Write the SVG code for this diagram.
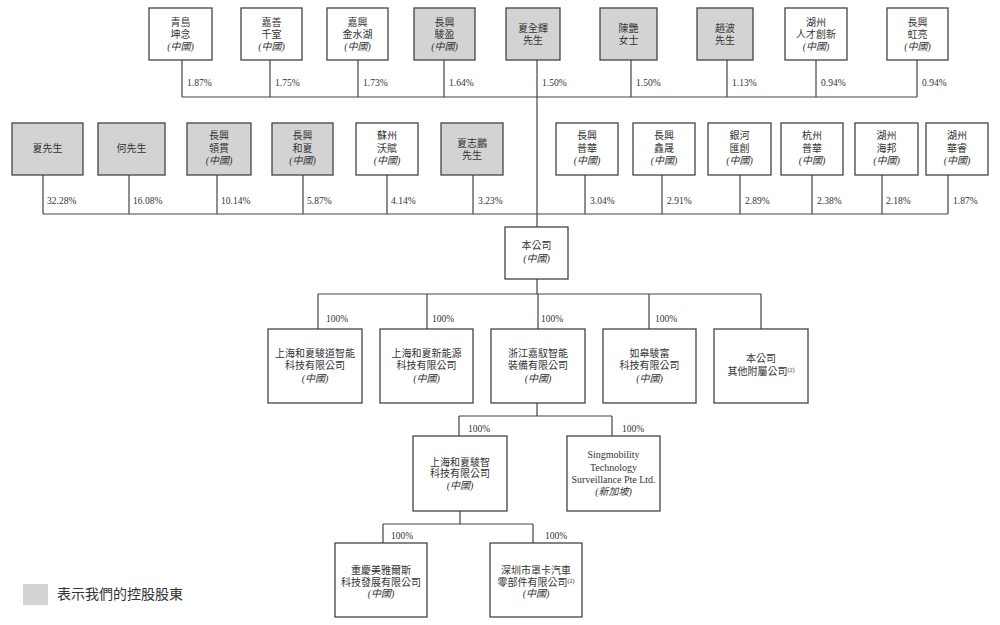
<svg xmlns="http://www.w3.org/2000/svg" width="1000" height="625" viewBox="0 0 1000 625">
<style>
.b{fill:#fff;stroke:#444;stroke-width:1.3}
.g{fill:#d3d3d3;stroke:#444;stroke-width:1.3}
.t{font-family:"Liberation Serif","Noto Sans CJK TC",serif;font-size:10px;fill:#333;text-anchor:middle}
.i{font-style:italic}
.p{font-family:"Liberation Serif","Noto Sans CJK TC",serif;font-size:9.5px;fill:#333}
.l{fill:none;stroke:#444;stroke-width:1.2}
</style>
<rect width="1000" height="625" fill="#fff"/>
<g id="connectors" class="l">
<path d="M182 60V97M270 60V97M358 60V97M444 60V97M631 60V97M727 60V97M816 60V97M917 60V97M182 97H917"/>
<path d="M537 60V227"/>
<path d="M43 175V214M129 175V214M217 175V214M303 175V214M387 175V214M473 175V214M585 175V214M662 175V214M740 175V214M812 175V214M882 175V214M948 175V214M43 214H948"/>
<path d="M537 279V294M318 294H761M318 294V329M427 294V329M538 294V329M649 294V329M761 294V329"/>
<path d="M537 403V416M459 416H612M459 416V436M612 416V436"/>
<path d="M460 511V524M383 524H533M383 524V543M533 524V543"/>
</g>
<g id="labels" class="p">
<text x="187" y="86">1.87%</text><text x="275" y="86">1.75%</text><text x="363" y="86">1.73%</text><text x="449" y="86">1.64%</text><text x="542" y="86">1.50%</text><text x="636" y="86">1.50%</text><text x="732" y="86">1.13%</text><text x="821" y="86">0.94%</text><text x="922" y="86">0.94%</text>
<text x="47" y="204">32.28%</text><text x="133" y="204">16.08%</text><text x="221" y="204">10.14%</text><text x="307" y="204">5.87%</text><text x="391" y="204">4.14%</text><text x="478" y="204">3.23%</text><text x="590" y="204">3.04%</text><text x="667" y="204">2.91%</text><text x="745" y="204">2.89%</text><text x="817" y="204">2.38%</text><text x="886" y="204">2.18%</text><text x="953" y="204">1.87%</text>
<text x="326" y="322">100%</text><text x="432" y="322">100%</text><text x="541" y="322">100%</text><text x="655" y="322">100%</text>
<text x="468" y="432">100%</text><text x="622" y="432">100%</text>
<text x="391" y="539">100%</text><text x="545" y="539">100%</text>
</g>
<g id="n1"><rect class="b" x="149" y="8" width="63" height="52"/><text class="t" x="180.5" y="26">青島</text><text class="t" x="180.5" y="38">坤念</text><text class="t i" x="180.5" y="50">(中國)</text></g>
<g id="n2"><rect class="b" x="241" y="8" width="61" height="52"/><text class="t" x="271.5" y="26">嘉善</text><text class="t" x="271.5" y="38">千室</text><text class="t i" x="271.5" y="50">(中國)</text></g>
<g id="n3"><rect class="b" x="327" y="8" width="61" height="52"/><text class="t" x="357.5" y="26">嘉興</text><text class="t" x="357.5" y="38">金水湖</text><text class="t i" x="357.5" y="50">(中國)</text></g>
<g id="n4"><rect class="g" x="414" y="8" width="61" height="52"/><text class="t" x="444.5" y="26">長興</text><text class="t" x="444.5" y="38">駿盈</text><text class="t i" x="444.5" y="50">(中國)</text></g>
<g id="n5"><rect class="g" x="506" y="8" width="54" height="52"/><text class="t" x="533" y="32">夏全輝</text><text class="t" x="533" y="44">先生</text></g>
<g id="n6"><rect class="g" x="600" y="8" width="57" height="52"/><text class="t" x="628.5" y="32">陳艷</text><text class="t" x="628.5" y="44">女士</text></g>
<g id="n7"><rect class="g" x="697" y="8" width="56" height="52"/><text class="t" x="725" y="32">趙波</text><text class="t" x="725" y="44">先生</text></g>
<g id="n8"><rect class="b" x="785" y="8" width="62" height="52"/><text class="t" x="816" y="26">湖州</text><text class="t" x="816" y="38">人才創新</text><text class="t i" x="816" y="50">(中國)</text></g>
<g id="n9"><rect class="b" x="887" y="8" width="61" height="52"/><text class="t" x="917.5" y="26">長興</text><text class="t" x="917.5" y="38">虹亮</text><text class="t i" x="917.5" y="50">(中國)</text></g>
<g id="m1"><rect class="g" x="12" y="123" width="71" height="52"/><text class="t" x="47.5" y="152">夏先生</text></g>
<g id="m2"><rect class="g" x="98" y="123" width="67" height="52"/><text class="t" x="131.5" y="152">何先生</text></g>
<g id="m3"><rect class="g" x="187" y="123" width="64" height="52"/><text class="t" x="219" y="139">長興</text><text class="t" x="219" y="152">領貫</text><text class="t i" x="219" y="164">(中國)</text></g>
<g id="m4"><rect class="g" x="272" y="123" width="61" height="52"/><text class="t" x="302.5" y="139">長興</text><text class="t" x="302.5" y="152">和夏</text><text class="t i" x="302.5" y="164">(中國)</text></g>
<g id="m5"><rect class="b" x="356" y="123" width="62" height="52"/><text class="t" x="387" y="139">蘇州</text><text class="t" x="387" y="152">沃賦</text><text class="t i" x="387" y="164">(中國)</text></g>
<g id="m6"><rect class="g" x="441" y="123" width="62" height="52"/><text class="t" x="472" y="147">夏志鵬</text><text class="t" x="472" y="159">先生</text></g>
<g id="m7"><rect class="b" x="556" y="123" width="62" height="52"/><text class="t" x="587" y="139">長興</text><text class="t" x="587" y="152">普華</text><text class="t i" x="587" y="164">(中國)</text></g>
<g id="m8"><rect class="b" x="633" y="123" width="62" height="52"/><text class="t" x="664" y="139">長興</text><text class="t" x="664" y="152">鑫晟</text><text class="t i" x="664" y="164">(中國)</text></g>
<g id="m9"><rect class="b" x="708" y="123" width="63" height="52"/><text class="t" x="739.5" y="139">銀河</text><text class="t" x="739.5" y="152">匯創</text><text class="t i" x="739.5" y="164">(中國)</text></g>
<g id="m10"><rect class="b" x="781" y="123" width="62" height="52"/><text class="t" x="812" y="139">杭州</text><text class="t" x="812" y="152">普華</text><text class="t i" x="812" y="164">(中國)</text></g>
<g id="m11"><rect class="b" x="855" y="123" width="63" height="52"/><text class="t" x="886.5" y="139">湖州</text><text class="t" x="886.5" y="152">海邦</text><text class="t i" x="886.5" y="164">(中國)</text></g>
<g id="m12"><rect class="b" x="926" y="123" width="62" height="52"/><text class="t" x="957" y="139">湖州</text><text class="t" x="957" y="152">華睿</text><text class="t i" x="957" y="164">(中國)</text></g>
<g id="company"><rect class="b" x="505" y="227" width="63" height="52"/><text class="t" x="536.5" y="249">本公司</text><text class="t i" x="536.5" y="262">(中國)</text></g>
<g id="s1"><rect class="b" x="268" y="329" width="94" height="74"/><text class="t" x="315" y="357">上海和夏駿道智能</text><text class="t" x="315" y="369">科技有限公司</text><text class="t i" x="315" y="382">(中國)</text></g>
<g id="s2"><rect class="b" x="380" y="329" width="93" height="74"/><text class="t" x="426.5" y="357">上海和夏新能源</text><text class="t" x="426.5" y="369">科技有限公司</text><text class="t i" x="426.5" y="382">(中國)</text></g>
<g id="s3"><rect class="b" x="491" y="329" width="94" height="74"/><text class="t" x="538" y="357">浙江嘉馭智能</text><text class="t" x="538" y="369">裝備有限公司</text><text class="t i" x="538" y="382">(中國)</text></g>
<g id="s4"><rect class="b" x="603" y="329" width="93" height="74"/><text class="t" x="649.5" y="357">如皋駿富</text><text class="t" x="649.5" y="369">科技有限公司</text><text class="t i" x="649.5" y="382">(中國)</text></g>
<g id="s5"><rect class="b" x="714" y="329" width="94" height="74"/><text class="t" x="761" y="362">本公司</text><text class="t" x="761" y="375">其他附屬公司<tspan font-size="6" dy="-3">(2)</tspan></text></g>
<g id="t1"><rect class="b" x="413" y="436" width="94" height="75"/><text class="t" x="460" y="466">上海和夏駿智</text><text class="t" x="460" y="477">科技有限公司</text><text class="t i" x="460" y="489">(中國)</text></g>
<g id="t2"><rect class="b" x="567" y="436" width="93" height="75"/><text class="t" x="613.5" y="458">Singmobility</text><text class="t" x="613.5" y="471">Technology</text><text class="t" x="613.5" y="483">Surveillance Pte Ltd.</text><text class="t i" x="613.5" y="495">(新加坡)</text></g>
<g id="u1"><rect class="b" x="335" y="543" width="92" height="74"/><text class="t" x="381" y="574">重慶美雅爾斯</text><text class="t" x="381" y="586">科技發展有限公司</text><text class="t i" x="381" y="597">(中國)</text></g>
<g id="u2"><rect class="b" x="490" y="543" width="92" height="74"/><text class="t" x="536" y="574">深圳市罩卡汽車</text><text class="t" x="536" y="586">零部件有限公司<tspan font-size="6" dy="-3">(2)</tspan></text><text class="t i" x="536" y="597">(中國)</text></g>
<g id="legend"><rect x="23" y="584" width="25" height="21" fill="#d3d3d3"/><text x="57" y="599" font-family="Liberation Serif,Noto Sans CJK TC,serif" font-size="14" fill="#333">表示我們的控股股東</text></g>
</svg>
